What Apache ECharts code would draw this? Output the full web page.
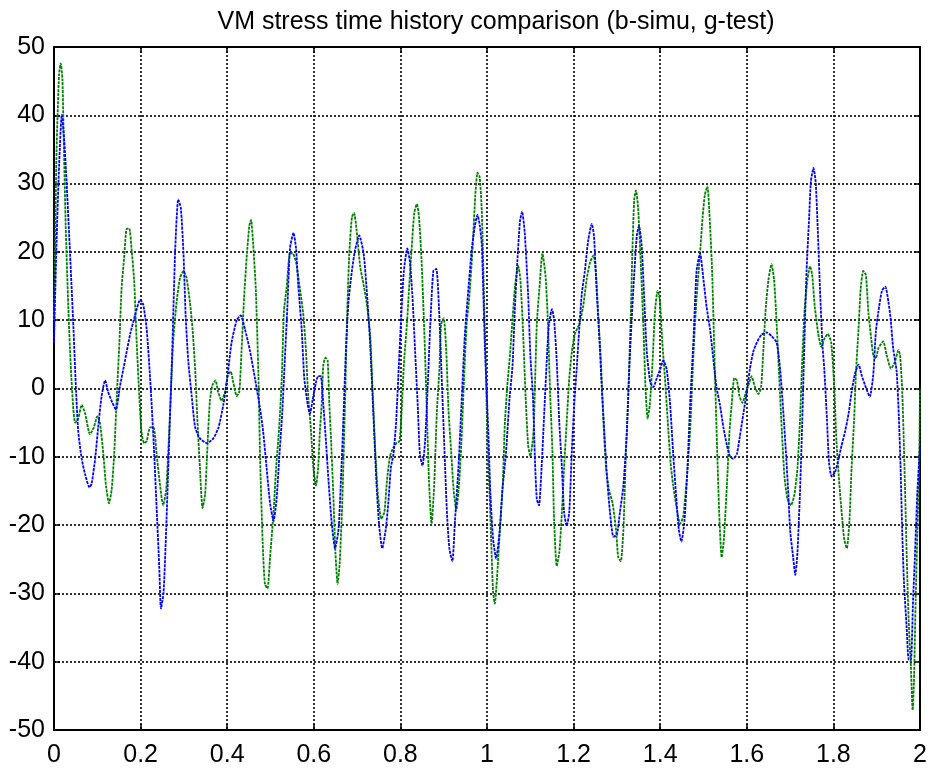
<!DOCTYPE html>
<html lang="en">
<head>
    <meta charset="UTF-8">
    <title>VM stress time history comparison</title>
    <script src="https://cdn.jsdelivr.net/npm/echarts@6/dist/echarts.min.js"></script>
    <style>
        html, body { margin: 0; padding: 0; background: #fff; }
    </style>
</head>
<body>
<div id="main" style="width: 934px;height: 772px"></div>
</body>
<script>
    // x ticks (time) and y ticks (stress)
    var xTicks = [0, 0.2, 0.4, 0.6, 0.8, 1, 1.2, 1.4, 1.6, 1.8, 2];
    var yTicks = [-50, -40, -30, -20, -10, 0, 10, 20, 30, 40, 50];

    // b - simulation, [time, stress]
    var simu = [
        [0,6.7],[0.006,21.7],[0.012,33],[0.018,40.1],[0.024,36],[0.029,30.3],[0.037,19.8],[0.045,8.7],[0.051,-0.5],[0.056,-6.3],
        [0.064,-10.3],[0.072,-12.6],[0.082,-14.5],[0.087,-13.9],[0.095,-10.3],[0.102,-5.7],[0.11,-1.1],[0.118,1.2],[0.125,-0.5],[0.135,-2.1],
        [0.143,-3.1],[0.152,0.2],[0.164,4.1],[0.176,8],[0.187,10.7],[0.199,13],[0.206,12.3],[0.214,8.7],[0.222,1.5],[0.23,-7.7],
        [0.237,-17.5],[0.243,-26],[0.247,-32.2],[0.253,-29.9],[0.259,-20.7],[0.266,-7.7],[0.273,5.4],[0.28,20.5],[0.287,27.7],[0.293,26.4],
        [0.299,19.8],[0.304,10.7],[0.31,4.1],[0.318,-1.1],[0.326,-5.7],[0.337,-7.3],[0.353,-8],[0.368,-7.3],[0.38,-5.7],[0.391,-2.4],
        [0.399,0.9],[0.41,6.7],[0.422,10],[0.431,10.7],[0.441,8.7],[0.453,5.4],[0.464,1.5],[0.476,-3],[0.483,-6.3],[0.491,-11.6],
        [0.499,-16.8],[0.507,-19.4],[0.514,-16.2],[0.52,-10.3],[0.527,-3.7],[0.533,4.1],[0.539,12],[0.545,20.5],[0.553,22.8],[0.559,20.5],
        [0.564,15.2],[0.572,8.7],[0.578,1.5],[0.586,-2.4],[0.591,-3.7],[0.597,-1.8],[0.605,0.9],[0.61,1.8],[0.616,1.8],[0.622,-2.4],
        [0.628,-7.7],[0.634,-13.5],[0.641,-19.4],[0.649,-23.4],[0.657,-20.7],[0.663,-12.9],[0.668,-5],[0.674,5.4],[0.68,12.6],[0.688,17.2],
        [0.695,20.2],[0.705,22.4],[0.715,19.8],[0.722,14.6],[0.73,6.7],[0.738,-4.4],[0.745,-14.2],[0.751,-20.1],[0.758,-23.4],[0.766,-20.7],
        [0.772,-16.8],[0.778,-11.6],[0.784,-9.6],[0.79,-5],[0.795,1.5],[0.801,9.4],[0.808,17.2],[0.816,20.5],[0.822,18.5],[0.828,13.3],
        [0.834,5.4],[0.84,-2.4],[0.845,-9.6],[0.851,-11.3],[0.857,-7.7],[0.863,0.2],[0.869,9.4],[0.876,17.2],[0.883,17.5],[0.889,12],
        [0.895,2.2],[0.901,-7.7],[0.907,-17.5],[0.913,-23.4],[0.92,-25.3],[0.926,-19.4],[0.934,-11.6],[0.941,-2.4],[0.949,8],[0.957,14.6],
        [0.965,20.5],[0.972,23.8],[0.978,25.4],[0.983,24],[0.988,21],[0.995,6.3],[1.003,-6.3],[1.008,-15.6],[1.014,-22],[1.021,-24.9],
        [1.029,-21],[1.036,-14.6],[1.044,-9.3],[1.052,-1.5],[1.059,3.4],[1.064,11.2],[1.07,18.5],[1.076,24.4],[1.081,25.9],[1.087,22.9],
        [1.095,13.7],[1.1,5],[1.106,-1.1],[1.111,-10.9],[1.115,-16.2],[1.12,-17.1],[1.126,-11.6],[1.133,-2.4],[1.138,4.1],[1.143,9.4],
        [1.15,11.6],[1.155,10],[1.161,4.1],[1.167,-5],[1.173,-11.6],[1.178,-18.1],[1.184,-20.1],[1.19,-18.1],[1.196,-9],[1.202,-1.8],
        [1.207,2.8],[1.213,8.7],[1.219,13.9],[1.226,17.2],[1.234,21.8],[1.242,24.1],[1.247,22.4],[1.253,14.6],[1.26,6.7],[1.265,0.2],
        [1.271,-6.3],[1.277,-12.9],[1.284,-18.1],[1.292,-21.7],[1.3,-21.4],[1.307,-18.1],[1.315,-14.2],[1.323,-6.3],[1.33,4.8],[1.338,14.6],
        [1.346,22.4],[1.351,23.8],[1.357,21.1],[1.363,13.3],[1.369,5.4],[1.377,0.9],[1.384,0.2],[1.392,1.5],[1.4,2.8],[1.407,4.1],
        [1.415,2.8],[1.423,-2.4],[1.43,-9.6],[1.438,-16.8],[1.443,-20.7],[1.449,-22.4],[1.456,-19.4],[1.463,-11.6],[1.469,-2.4],[1.477,7.4],
        [1.484,17.2],[1.492,19.8],[1.5,15.9],[1.507,12],[1.515,8.7],[1.523,4.1],[1.53,0.2],[1.538,-2.4],[1.546,-5.7],[1.554,-8.3],
        [1.561,-9.9],[1.569,-10.3],[1.577,-9.6],[1.584,-7],[1.592,-3.7],[1.6,-0.5],[1.607,2.8],[1.615,5.4],[1.623,6.7],[1.634,7.9],
        [1.646,8.2],[1.657,7.7],[1.669,6.7],[1.677,2.8],[1.684,-3.1],[1.69,-9],[1.696,-15.5],[1.7,-20.7],[1.707,-24.7],[1.712,-27.3],
        [1.717,-24],[1.723,-14.9],[1.728,-5],[1.733,6.7],[1.738,17.2],[1.744,25.1],[1.748,30.3],[1.754,32.3],[1.759,30.3],[1.764,23.1],
        [1.769,14.6],[1.775,6.1],[1.779,2.8],[1.785,-4.4],[1.79,-10.9],[1.796,-12.9],[1.804,-12.2],[1.812,-10.3],[1.819,-8.3],[1.827,-6.3],
        [1.835,-3.7],[1.842,-0.5],[1.85,2.2],[1.858,3.5],[1.866,1.8],[1.873,0.5],[1.884,-1.2],[1.892,2],[1.898,8.3],[1.904,11.3],
        [1.912,14.3],[1.92,14.9],[1.927,12.7],[1.932,10.3],[1.938,5.9],[1.946,2.5],[1.951,-3.9],[1.955,-11.3],[1.959,-21.1],[1.963,-28.4],
        [1.969,-34.8],[1.974,-39.7],[1.979,-39.7],[1.984,-30.9],[1.988,-25],[1.994,-15],[2,-8.5]
    ];

    // g - test, [time, stress]
    var test = [
        [0,10],[0.006,34.9],[0.0117,46],[0.0155,47.6],[0.0194,45.3],[0.023,34.9],[0.027,23.8],[0.033,12],[0.0385,3.5],[0.0447,-3.1],
        [0.049,-5],[0.056,-4.4],[0.064,-2.4],[0.072,-3.7],[0.083,-6.7],[0.092,-5.7],[0.1,-4.1],[0.106,-5],[0.114,-9.6],[0.12,-14.2],
        [0.127,-16.8],[0.133,-14.9],[0.139,-9.6],[0.145,-1.1],[0.151,6.7],[0.156,14.6],[0.162,19.2],[0.168,23.4],[0.174,23.4],[0.179,20.5],
        [0.185,15.9],[0.191,6.7],[0.197,-1.1],[0.202,-6.3],[0.208,-8],[0.214,-7.7],[0.222,-5.7],[0.23,-5.7],[0.237,-9.6],[0.245,-14.2],
        [0.252,-17.1],[0.259,-14.9],[0.264,-9],[0.27,-0.5],[0.275,6.7],[0.283,12.6],[0.291,16.2],[0.299,17.2],[0.306,16.2],[0.314,12.6],
        [0.32,8.7],[0.326,2.8],[0.331,-4.4],[0.337,-11.6],[0.343,-17.5],[0.349,-15.5],[0.354,-9],[0.36,-1.8],[0.366,0.5],[0.373,1.2],
        [0.379,-0.5],[0.387,-1.8],[0.395,-0.5],[0.401,1.8],[0.408,2.5],[0.414,0.9],[0.422,-1.1],[0.428,-0.5],[0.433,5.4],[0.439,13.3],
        [0.445,19.2],[0.451,23.8],[0.455,24.7],[0.46,21.1],[0.466,14.6],[0.472,2.2],[0.476,-10.3],[0.482,-22.7],[0.487,-28.6],[0.493,-29.3],
        [0.499,-24.7],[0.507,-18.1],[0.513,-11.6],[0.52,-5.7],[0.526,1.5],[0.531,11.3],[0.537,14.6],[0.545,19.8],[0.551,19.8],[0.559,18.5],
        [0.568,14.6],[0.576,10.7],[0.582,5.4],[0.587,-1.1],[0.593,-5.7],[0.599,-11.6],[0.605,-14.2],[0.61,-11.6],[0.614,-6.3],[0.618,-2.4],
        [0.622,3.5],[0.627,4.5],[0.632,4.1],[0.636,-2.4],[0.64,-7.7],[0.645,-15.5],[0.65,-24.1],[0.655,-28.6],[0.66,-25.3],[0.666,-16.2],
        [0.672,-2.4],[0.677,10.7],[0.682,19.8],[0.688,25.1],[0.693,25.7],[0.699,23.1],[0.707,17.9],[0.715,15.2],[0.722,12.6],[0.73,8],
        [0.736,-0.5],[0.742,-9],[0.748,-15.5],[0.756,-19.1],[0.763,-18.1],[0.769,-13.5],[0.776,-9.9],[0.784,-8.6],[0.791,-8],[0.798,-7.7],
        [0.803,-3.1],[0.808,3.5],[0.815,9.4],[0.82,14.6],[0.826,20.5],[0.832,25.7],[0.838,27],[0.843,25.1],[0.849,18.5],[0.855,8.7],
        [0.861,-3.1],[0.866,-13.5],[0.872,-19.8],[0.878,-14.2],[0.884,-3.7],[0.89,2.8],[0.894,9.4],[0.9,10.3],[0.906,5.4],[0.911,-3.1],
        [0.917,-9],[0.923,-14.9],[0.929,-17.8],[0.936,-13.5],[0.942,-6.3],[0.947,1.5],[0.953,9.4],[0.959,13.3],[0.966,19.8],[0.973,28.3],
        [0.978,31.6],[0.983,31],[0.988,25.9],[0.994,11.2],[0.998,1.5],[1.001,-8.3],[1.006,-15.6],[1.01,-22.9],[1.014,-29.8],[1.018,-31.5],
        [1.023,-27.8],[1.03,-20.5],[1.037,-13.2],[1.041,-5.4],[1.047,0.5],[1.053,4.9],[1.059,10.2],[1.065,15.1],[1.072,18],[1.077,16],
        [1.083,8.8],[1.089,-1],[1.095,-8.3],[1.1,-9.9],[1.105,-8],[1.108,-5.7],[1.115,9.4],[1.121,14.6],[1.128,19.8],[1.135,16.6],
        [1.14,10.7],[1.146,-1.1],[1.151,-9],[1.155,-19.4],[1.161,-26],[1.167,-24],[1.173,-18.1],[1.178,-11.6],[1.184,-5],[1.19,1.5],
        [1.196,5.4],[1.203,8],[1.213,9.4],[1.222,12],[1.23,15.9],[1.238,18.5],[1.246,19.5],[1.252,16.6],[1.257,10.7],[1.263,4.1],
        [1.269,-5],[1.275,-11.6],[1.282,-14.9],[1.29,-16.8],[1.298,-20.7],[1.303,-24.7],[1.309,-25.3],[1.315,-20.7],[1.32,-10.9],[1.326,-1.1],
        [1.332,10.7],[1.336,20.5],[1.34,27.7],[1.344,29],[1.349,26.4],[1.355,18.5],[1.361,9.4],[1.366,0.2],[1.371,-4.4],[1.376,-2.4],
        [1.382,3.5],[1.388,11.3],[1.394,14.3],[1.399,13.1],[1.405,6.7],[1.411,1.5],[1.417,-4.4],[1.424,-10.9],[1.43,-14.2],[1.438,-17.5],
        [1.446,-19.8],[1.453,-18.8],[1.461,-13.5],[1.469,-6.3],[1.477,5.4],[1.484,13.3],[1.492,19.8],[1.498,25.1],[1.503,28.3],[1.509,29.6],
        [1.515,24],[1.52,17],[1.526,3],[1.532,-10],[1.537,-19.4],[1.542,-24.7],[1.547,-22.1],[1.554,-14.2],[1.56,-6.3],[1.565,-2.4],
        [1.571,1.5],[1.577,1.2],[1.583,-1.1],[1.59,-2.1],[1.598,-0.5],[1.606,0.9],[1.611,1.8],[1.619,0.2],[1.627,-0.8],[1.633,0.2],
        [1.638,5.4],[1.644,12],[1.65,15.9],[1.657,18.2],[1.663,15.9],[1.669,9.4],[1.675,1.5],[1.681,-6.3],[1.687,-12.9],[1.694,-16.2],
        [1.702,-17.1],[1.71,-15.5],[1.717,-11.6],[1.723,-4.4],[1.728,4.1],[1.734,12],[1.74,15.9],[1.746,17.9],[1.751,16.6],[1.757,12],
        [1.765,8],[1.772,6.1],[1.78,7.4],[1.787,8],[1.795,6.7],[1.802,0.2],[1.807,-7.7],[1.814,-14.2],[1.819,-18.1],[1.825,-22.1],
        [1.831,-23.4],[1.837,-19.4],[1.842,-11.6],[1.848,-4.4],[1.852,2.2],[1.858,8.7],[1.863,14.6],[1.869,17.2],[1.875,16.6],[1.881,11],
        [1.887,7.5],[1.892,4.9],[1.898,4.4],[1.904,5.9],[1.915,6.9],[1.923,4.9],[1.933,2.9],[1.942,3.9],[1.95,5.6],[1.954,4.9],
        [1.959,-0.5],[1.963,-8.8],[1.967,-18.6],[1.971,-28.4],[1.975,-35.8],[1.979,-40.7],[1.983,-47.1],[1.986,-43.1],[1.99,-30.9],[1.994,-21.1],
        [1.998,-11.3],[2,0]
    ];

    var font = "'Liberation Sans', Arial, sans-serif";

    function fmt(v) {
        return String(+v.toFixed(1));
    }

    var xStep = xTicks[1] - xTicks[0];
    var yStep = yTicks[1] - yTicks[0];
    var gridLine = {show: true, lineStyle: {color: "#000", type: [2, 2], width: 1.6}};

    function valueAxis(pos, min, max, step, showLabel) {
        return {
            type: "value",
            position: pos,
            min: min,
            max: max,
            interval: step,
            axisLine: {show: true, onZero: false, lineStyle: {color: "#000", width: 2}},
            axisTick: {show: true, inside: true, length: 6, lineStyle: {color: "#000", width: 1.5}},
            axisLabel: {
                show: showLabel,
                color: "#000",
                fontSize: 25,
                fontFamily: font,
                margin: pos === "left" ? 9 : 13,
                padding: pos === "left" ? [7, 0, 0, 0] : 0,
                formatter: fmt
            },
            splitLine: {show: false}
        };
    }

    var MyChart = echarts.init(document.getElementById("main"), null, {renderer: "canvas"});

    var xBottom = valueAxis("bottom", xTicks[0], xTicks[xTicks.length - 1], xStep, true);
    xBottom.splitLine = gridLine;
    var yLeft = valueAxis("left", yTicks[0], yTicks[yTicks.length - 1], yStep, true);
    yLeft.splitLine = gridLine;

    var option = {
        animation: false,
        backgroundColor: "#fff",
        title: {
            text: "VM stress time history comparison (b-simu, g-test)",
            left: 491,
            top: 5,
            textAlign: "center",
            textStyle: {color: "#000", fontSize: 25, fontWeight: "normal", fontFamily: font}
        },
        grid: {left: 54, right: 14, top: 47, bottom: 42},
        xAxis: [
            xBottom,
            valueAxis("top", xTicks[0], xTicks[xTicks.length - 1], xStep, false)
        ],
        yAxis: [
            yLeft,
            valueAxis("right", yTicks[0], yTicks[yTicks.length - 1], yStep, false)
        ],
        series: [{
            name: "b-simu",
            type: "line",
            data: simu,
            showSymbol: false,
            smooth: 0.2,
            lineStyle: {color: "#0000ff", width: 1.8, type: [3, 1]},
            z: 3
        }, {
            name: "g-test",
            type: "line",
            data: test,
            showSymbol: false,
            smooth: 0.2,
            lineStyle: {color: "#008000", width: 1.8, type: [3, 1]},
            z: 2
        }]
    };
    MyChart.setOption(option);
</script>
</html>
